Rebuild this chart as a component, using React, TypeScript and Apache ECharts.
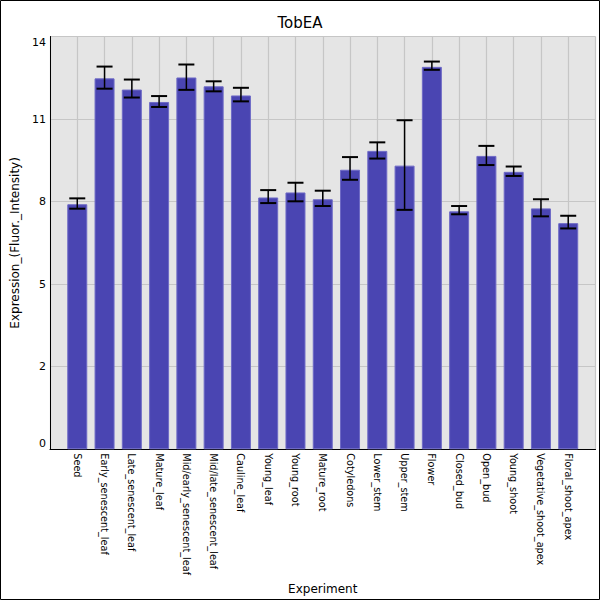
import React, { useEffect, useRef } from "react";
import * as echarts from "echarts";

const categories = [
  "Seed",
  "Early_senescent_leaf",
  "Late_senescent_leaf",
  "Mature_leaf",
  "Mid/early_senescent_leaf",
  "Mid/late_senescent_leaf",
  "Cauline_leaf",
  "Young_leaf",
  "Young_root",
  "Mature_root",
  "Cotyledons",
  "Lower_stem",
  "Upper_stem",
  "Flower",
  "Closed_bud",
  "Open_bud",
  "Young_shoot",
  "Vegetative_shoot_apex",
  "Floral_shoot_apex",
];

const values = [
  8.31, 12.58, 12.2, 11.78, 12.61, 12.31, 12.0, 8.54, 8.71, 8.48, 9.48, 10.12,
  9.62, 12.97, 8.07, 9.95, 9.41, 8.17, 7.67,
];

const errLow = [
  8.16, 12.23, 11.93, 11.61, 12.19, 12.14, 11.8, 8.35, 8.41, 8.25, 9.14, 9.86,
  8.12, 12.87, 7.97, 9.64, 9.27, 7.9, 7.49,
];

const errHigh = [
  8.51, 12.98, 12.54, 11.98, 13.05, 12.48, 12.26, 8.79, 9.04, 8.77, 9.91, 10.41,
  11.16, 13.15, 8.25, 10.29, 9.59, 8.48, 7.92,
];

const yMin = 0;
const yMax = 14;
const yInterval = 2.8;

const FONT = "DejaVu Sans";

export default function App() {
  const ref = useRef<HTMLDivElement>(null);

  useEffect(() => {
    if (!ref.current) return;
    const chart = echarts.init(ref.current, undefined, { renderer: "svg" });

    const axisCats = ["", ...categories, ""];
    const barData: any[] = ["-", ...values, "-"];
    const errData = categories.map((_, i) => [i + 1, errLow[i], errHigh[i]]);

    chart.setOption({
      animation: false,
      backgroundColor: "#ffffff",
      title: {
        text: "TobEA",
        left: "center",
        top: 10,
        textStyle: {
          fontFamily: FONT,
          fontSize: 15,
          fontWeight: "normal",
          color: "#000",
        },
      },
      graphic: [
        {
          type: "rect",
          shape: { x: 0.5, y: 0.5, width: 599, height: 599 },
          style: { fill: "none", stroke: "#000", lineWidth: 1 },
          silent: true,
          z: 100,
        },
      ],
      grid: {
        left: 50,
        right: 4.5,
        top: 36.5,
        bottom: 146.5,
        show: true,
        backgroundColor: "#e5e5e5",
        borderWidth: 0,
      },
      xAxis: {
        type: "category",
        data: axisCats,
        boundaryGap: false,
        name: "Experiment",
        nameLocation: "middle",
        nameGap: 123,
        nameTextStyle: { fontFamily: FONT, fontSize: 12, color: "#000" },
        axisLine: { show: true, lineStyle: { color: "#000", width: 1 } },
        axisTick: { show: false },
        axisLabel: {
          rotate: -90,
          interval: 0,
          margin: 4,
          fontFamily: FONT,
          fontSize: 9.7,
          color: "#000",
        },
        splitLine: { show: true, lineStyle: { color: "#c6c6c6", width: 1.2 } },
      },
      yAxis: {
        type: "value",
        min: yMin,
        max: yMax,
        interval: yInterval,
        name: "Expression_(Fluor._Intensity)",
        nameLocation: "middle",
        nameGap: 28,
        nameTextStyle: { fontFamily: FONT, fontSize: 12, color: "#000" },
        axisLine: { show: true, lineStyle: { color: "#000", width: 1 } },
        axisTick: { show: false },
        axisLabel: {
          margin: 4,
          fontFamily: FONT,
          fontSize: 11,
          color: "#000",
          verticalAlignMinLabel: "bottom",
          verticalAlignMaxLabel: "top",
          formatter: (v: number) => String(Math.floor(v + 1e-9)),
        },
        splitLine: { show: true, lineStyle: { color: "#c6c6c6", width: 1.2 } },
      },
      series: [
        {
          type: "bar",
          data: barData,
          barWidth: 20,
          itemStyle: {
            color: "#4a45b2",
            borderColor: "#6e6ac6",
            borderWidth: 1,
          },
          z: 2,
        },
        {
          type: "custom",
          data: errData,
          z: 5,
          renderItem: (params: any, api: any) => {
            const x = api.value(0);
            const lo = api.coord([x, api.value(1)]);
            const hi = api.coord([x, api.value(2)]);
            const half = 8;
            return {
              type: "group",
              children: [
                {
                  type: "line",
                  shape: { x1: lo[0], y1: lo[1], x2: hi[0], y2: hi[1] },
                  style: { stroke: "#000", lineWidth: 1.5 },
                },
                {
                  type: "line",
                  shape: { x1: lo[0] - half, y1: lo[1], x2: lo[0] + half, y2: lo[1] },
                  style: { stroke: "#000", lineWidth: 2 },
                },
                {
                  type: "line",
                  shape: { x1: hi[0] - half, y1: hi[1], x2: hi[0] + half, y2: hi[1] },
                  style: { stroke: "#000", lineWidth: 2 },
                },
              ],
            };
          },
        },
      ],
    });

    return () => chart.dispose();
  }, []);

  return (
    <div
      ref={ref}
      style={{ position: "absolute", left: 0, top: 0, width: 600, height: 600 }}
    />
  );
}
